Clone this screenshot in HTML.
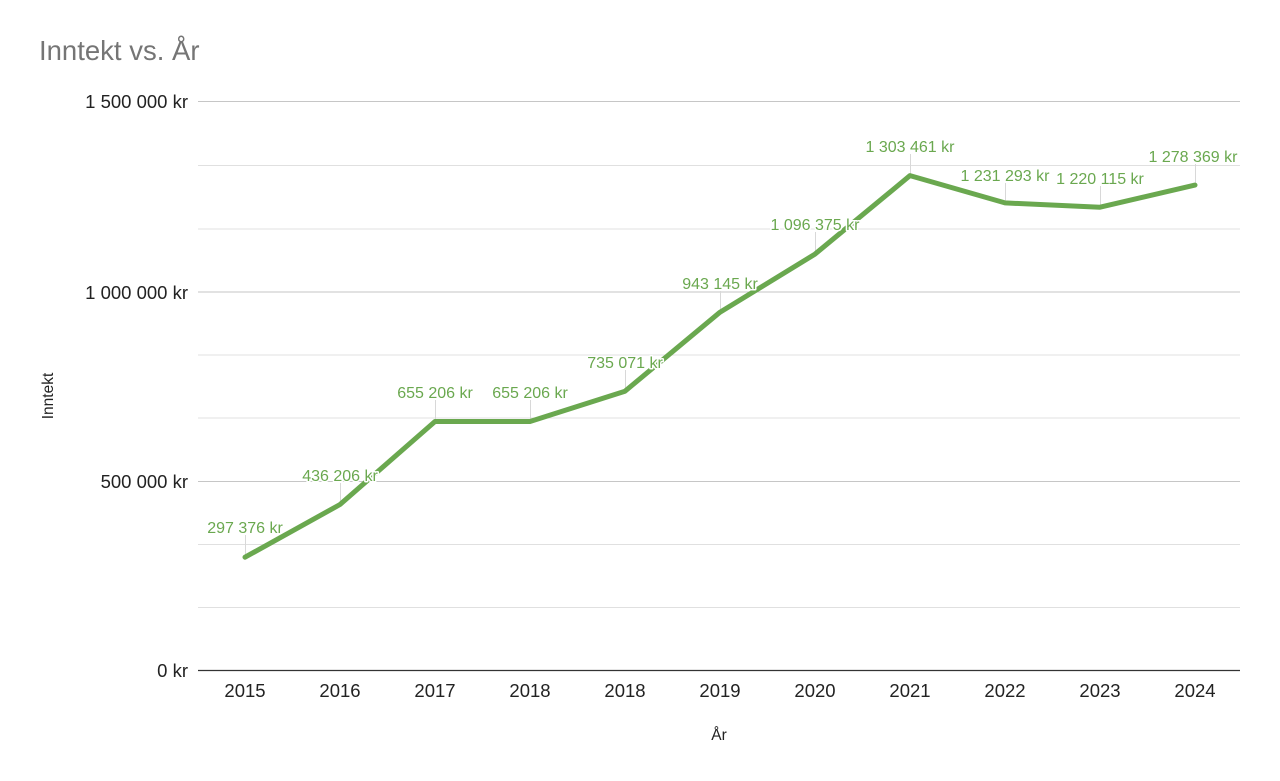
<!DOCTYPE html>
<html><head><meta charset="utf-8"><style>body{margin:0;background:#fff}svg{display:block}text{font-family:"Liberation Sans",sans-serif}</style></head><body>
<svg width="1280" height="781" viewBox="0 0 1280 781">
<text x="39" y="60" font-size="27.5" fill="#757575">Inntekt vs. År</text>
<g stroke="#e0e0e0" stroke-width="1">
<line x1="198" x2="1240" y1="165.5" y2="165.5"/><line x1="198" x2="1240" y1="229" y2="229"/>
<line x1="198" x2="1240" y1="355" y2="355"/><line x1="198" x2="1240" y1="418" y2="418"/>
<line x1="198" x2="1240" y1="544.5" y2="544.5"/><line x1="198" x2="1240" y1="607.5" y2="607.5"/>
</g>
<g stroke="#c6c6c6" stroke-width="1">
<line x1="198" x2="1240" y1="101.5" y2="101.5"/><line x1="198" x2="1240" y1="292" y2="292"/><line x1="198" x2="1240" y1="481.5" y2="481.5"/>
</g>
<line x1="198" x2="1240" y1="670.5" y2="670.5" stroke="#333" stroke-width="1.2"/>
<g font-size="18.5" fill="#222" text-anchor="end">
<text x="188" y="108">1 500 000 kr</text><text x="188" y="299">1 000 000 kr</text><text x="188" y="488">500 000 kr</text><text x="188" y="677">0 kr</text>
</g>
<g font-size="18.5" fill="#222" text-anchor="middle">
<text x="245" y="697">2015</text><text x="340" y="697">2016</text><text x="435" y="697">2017</text><text x="530" y="697">2018</text><text x="625" y="697">2018</text><text x="720" y="697">2019</text><text x="815" y="697">2020</text><text x="910" y="697">2021</text><text x="1005" y="697">2022</text><text x="1100" y="697">2023</text><text x="1195" y="697">2024</text>
<text x="719" y="740" font-size="15.5">År</text>
</g>
<text transform="translate(53,396) rotate(-90)" font-size="15.5" fill="#222" text-anchor="middle">Inntekt</text>
<g stroke="#d8d8d8" stroke-width="1">
<line x1="245.5" x2="245.5" y1="535" y2="557"/><line x1="340.5" x2="340.5" y1="483" y2="504"/><line x1="435.5" x2="435.5" y1="400" y2="421"/><line x1="530.5" x2="530.5" y1="400" y2="421"/><line x1="625.5" x2="625.5" y1="370" y2="391"/><line x1="720.5" x2="720.5" y1="291" y2="312"/><line x1="815.5" x2="815.5" y1="232" y2="254"/><line x1="910.5" x2="910.5" y1="154" y2="175"/><line x1="1005.5" x2="1005.5" y1="183" y2="203"/><line x1="1100.5" x2="1100.5" y1="186" y2="207"/><line x1="1195.5" x2="1195.5" y1="164" y2="185"/>
</g>
<polyline fill="none" stroke="#6aa84f" stroke-width="5" stroke-linejoin="round" stroke-linecap="round" points="245,557.2 340,504.5 435,421.5 530,421.5 625,391.2 720,312.2 815,254.1 910,175.6 1005,202.9 1100,207.2 1195,185.1"/>
<g font-size="16" fill="#6aa84f" text-anchor="middle" stroke="#fff" stroke-width="3" paint-order="stroke" stroke-linejoin="round">
<text x="245" y="533">297 376 kr</text><text x="340" y="481">436 206 kr</text><text x="435" y="398">655 206 kr</text><text x="530" y="398">655 206 kr</text><text x="625" y="368">735 071 kr</text><text x="720" y="289">943 145 kr</text><text x="815" y="230">1 096 375 kr</text><text x="910" y="152">1 303 461 kr</text><text x="1005" y="181">1 231 293 kr</text><text x="1100" y="184">1 220 115 kr</text><text x="1193" y="162">1 278 369 kr</text>
</g>
</svg>
</body></html>
